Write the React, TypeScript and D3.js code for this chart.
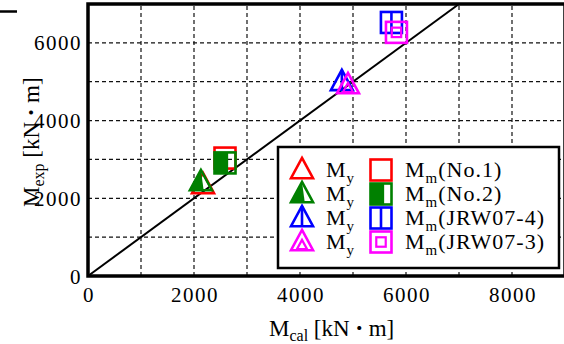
import React from 'react';
import * as d3 from 'd3';

// test specimens, M_y (yield) and M_m (max) moments [kN·m]
const specimens = ['No.1', 'No.2', 'JRW07-4', 'JRW07-3'];
const colors = ['#ff0000', '#008000', '#0000ff', '#ff00ff'];
const myCal = [2170, 2130, 4790, 4905];
const myExp = [2340, 2420, 4995, 4915];
const mmCal = [2585, 2585, 5725, 5820];
const mmExp = [3035, 2910, 6525, 6270];
const xTicks = [0, 2000, 4000, 6000, 8000];
const yTicks = [0, 2000, 4000, 6000];
const gridX = [1000, 2000, 3000, 4000, 5000, 6000, 7000, 8000];
const gridY = [1000, 2000, 3000, 4000, 5000, 6000];

const W = 564;
const H = 344;
const margin = { top: 4, right: -1, bottom: 68, left: 88 };
const serif = '"Liberation Serif", "Times New Roman", serif';

const tri = (s: number) => `M0,${-1.1 * s}L${s},${0.75 * s}L${-s},${0.75 * s}Z`;

function Triangle({ i, x, y }: { i: number; x: number; y: number }) {
  const c = colors[i];
  const s = 11;
  return (
    <g transform={`translate(${x},${y})`} fill="none" stroke={c} strokeWidth={2.6}>
      {i === 1 && <path d={`M0,${-1.1 * s}L${-s},${0.75 * s}L${0.25 * s},${0.75 * s}Z`} fill={c} stroke="none" />}
      <path d={tri(s)} />
      {i === 2 && <line x1={0} x2={0} y1={-1.1 * s} y2={0.75 * s} />}
      {i === 3 && <path d={tri(s * 0.45)} transform={`translate(0,${0.3 * s})`} strokeWidth={2.2} />}
    </g>
  );
}

function Square({ i, x, y }: { i: number; x: number; y: number }) {
  const c = colors[i];
  const s = 10.5;
  return (
    <g transform={`translate(${x},${y})`} fill="none" stroke={c} strokeWidth={2.6}>
      {i === 1 && <rect x={-s} y={-s} width={1.3 * s} height={2 * s} fill={c} stroke="none" />}
      <rect x={-s} y={-s} width={2 * s} height={2 * s} />
      {i === 2 && <line x1={0} x2={0} y1={-s} y2={s} />}
      {i === 3 && <rect x={-s * 0.45} y={-s * 0.45} width={0.9 * s} height={0.9 * s} strokeWidth={2.2} />}
    </g>
  );
}

const dotStyle = { fontFamily: '"Noto Sans CJK JP", sans-serif', fontSize: 19 };

export default function App() {
  const x = d3.scaleLinear().domain([0, 9000]).range([margin.left, W - margin.right]);
  const y = d3.scaleLinear().domain([0, 7000]).range([H - margin.bottom, margin.top]);
  const x0 = x(0), x1 = x(9000), y0 = y(0), y1 = y(7000);

  const diag = d3.line<number>().x(d => x(d)).y(d => y(d))([0, 7000]) || '';

  const lg = { x: 278, y: 147, w: 281, h: 121 };
  const rowY = (k: number) => lg.y + 23 + k * 24;

  return (
    <svg width={W} height={H}
      style={{ position: 'absolute', left: 0, top: 0, background: '#fff', fontFamily: serif }}>
      <line x1={0} x2={17} y1={11.5} y2={11.5} stroke="#000" strokeWidth={2.5} />

      {/* grid */}
      <g stroke="#111" strokeWidth={1.2} strokeDasharray="4,3">
        {gridX.map(v => <line key={'gx' + v} x1={x(v)} x2={x(v)} y1={y0} y2={y1} />)}
        {gridY.map(v => <line key={'gy' + v} x1={x0} x2={x1} y1={y(v)} y2={y(v)} />)}
      </g>

      <path d={diag} stroke="#000" strokeWidth={2} fill="none" />

      {/* data */}
      {specimens.map((_, i) => (
        <g key={'p' + i}>
          <Triangle i={i} x={x(myCal[i])} y={y(myExp[i])} />
          <Square i={i} x={x(mmCal[i])} y={y(mmExp[i])} />
        </g>
      ))}

      {/* legend */}
      <rect x={lg.x} y={lg.y} width={lg.w} height={lg.h} fill="#fff" stroke="#000" strokeWidth={2.5} />
      {specimens.map((name, i) => (
        <g key={'l' + i}>
          <Triangle i={i} x={302} y={rowY(i)} />
          <text x={326} y={rowY(i) + 7} fontSize={22} letterSpacing={1}>
            M<tspan fontSize={15} dy={6}>y</tspan>
          </text>
          <Square i={i} x={381} y={rowY(i)} />
          <text x={405} y={rowY(i) + 7} fontSize={22} letterSpacing={1}>
            M<tspan fontSize={15} dy={6}>m</tspan>
            <tspan dy={-6}>({name})</tspan>
          </text>
        </g>
      ))}

      {/* frame */}
      <rect x={x0} y={y1} width={x1 - x0} height={y0 - y1} fill="none" stroke="#000" strokeWidth={3.5} />

      {/* tick labels */}
      {xTicks.map(v => (
        <text key={'xt' + v} x={x(v) + 1} y={y0 + 26} fontSize={21} letterSpacing={1.5} textAnchor="middle">{v}</text>
      ))}
      {yTicks.map(v => (
        <text key={'yt' + v} x={x0 - 6} y={y(v) + 7.5} fontSize={21} letterSpacing={1.5} textAnchor="end">{v}</text>
      ))}

      {/* axis titles */}
      <text x={269} y={336} fontSize={23}>
        M<tspan fontSize={16} dy={5}>cal</tspan>
        <tspan dy={-5}> [kN</tspan>
        <tspan style={dotStyle}>・</tspan>m]
      </text>
      <text transform="translate(39,207) rotate(-90)" fontSize={23}>
        M<tspan fontSize={16} dy={5}>exp</tspan>
        <tspan dy={-5}> [kN</tspan>
        <tspan style={dotStyle}>・</tspan>m]
      </text>
    </svg>
  );
}
